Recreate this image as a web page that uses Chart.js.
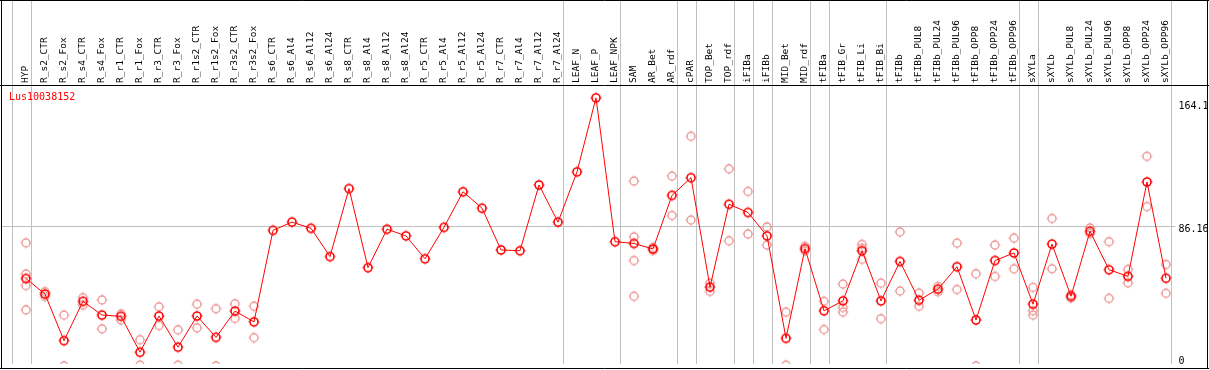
<!DOCTYPE html>
<html>
<head>
<meta charset="utf-8">
<script src="https://cdn.jsdelivr.net/npm/chart.js@4"></script>
<style>
  html, body { margin: 0; padding: 0; background: #fff; }
  #wrap { width: 1209px; height: 370px; position: relative; }
</style>
</head>
<body>
<div id="wrap"><canvas id="chart"></canvas></div>
<script>
// Expression profile data
const geneName = 'Lus10038152';

const categories = [
    'HYP', 'R_s2_CTR', 'R_s2_Fox', 'R_s4_CTR', 'R_s4_Fox', 'R_r1_CTR', 'R_r1_Fox', 'R_r3_CTR', 'R_r3_Fox', 'R_r1s2_CTR',
    'R_r1s2_Fox', 'R_r3s2_CTR', 'R_r3s2_Fox', 'R_s6_CTR', 'R_s6_Al4', 'R_s6_Al12', 'R_s6_Al24', 'R_s8_CTR', 'R_s8_Al4', 'R_s8_Al12',
    'R_s8_Al24', 'R_r5_CTR', 'R_r5_Al4', 'R_r5_Al12', 'R_r5_Al24', 'R_r7_CTR', 'R_r7_Al4', 'R_r7_Al12', 'R_r7_Al24', 'LEAF_N',
    'LEAF_P', 'LEAF_NPK', 'SAM', 'AR_Bet', 'AR_rdf', 'cPAR', 'TOP_Bet', 'TOP_rdf', 'iFIBa', 'iFIBb',
    'MID_Bet', 'MID_rdf', 'tFIBa', 'tFIB_Gr', 'tFIB_Li', 'tFIB_Bi', 'tFIBb', 'tFIBb_PUL8', 'tFIBb_PUL24', 'tFIBb_PUL96',
    'tFIBb_OPP8', 'tFIBb_OPP24', 'tFIBb_OPP96', 'sXYLa', 'sXYLb', 'sXYLb_PUL8', 'sXYLb_PUL24', 'sXYLb_PUL96', 'sXYLb_OPP8', 'sXYLb_OPP24',
    'sXYLb_OPP96'
];

// mean per sample (red line)
const meanValues = [
    52.8, 43.0, 13.5, 38.4, 29.7, 28.9, 6.2, 29.1, 9.4, 29.1,
    15.6, 32.2, 25.4, 83.3, 88.5, 84.6, 66.7, 109.7, 59.7, 84.0,
    79.8, 65.3, 85.2, 107.7, 97.3, 70.9, 70.4, 112.0, 88.5, 120.3,
    167.1, 76.1, 75.0, 71.5, 105.4, 116.6, 47.4, 99.8, 94.6, 79.8,
    15.0, 71.7, 32.4, 38.7, 70.4, 38.7, 63.6, 39.1, 46.1, 60.3,
    26.6, 64.2, 69.0, 36.6, 74.6, 41.6, 82.7, 58.4, 54.2, 113.9,
    53.0
];

// individual replicates (pale circles)
const repA = [
    75.4, 44.5, 29.7, 40.7, 39.3, 30.4, 14.1, 34.9, 20.4, 36.6,
    33.7, 36.8, 35.3, null, null, null, null, null, null, null,
    null, null, null, null, null, null, null, null, null, null,
    null, null, 114.5, 72.5, 117.6, 142.8, 49.9, 122.2, 107.9, 85.4,
    31.6, 73.1, 38.4, 49.3, 74.4, 49.9, 82.3, 43.6, 47.8, 75.2,
    55.9, 74.0, 78.4, 47.2, 90.8, 42.5, 84.8, 76.1, 58.6, 130.1,
    61.7
];
const repB = [
    55.7, 41.5, -2.5, 36.0, 21.0, 26.6, -2.0, 23.1, -2.0, 21.6,
    -2.5, 27.6, 15.4, null, null, null, null, null, null, null,
    null, null, null, null, null, null, null, null, null, null,
    null, null, 79.2, 70.5, 92.7, 89.8, 44.7, 76.7, 81.0, 74.0,
    -2.0, 70.3, 20.6, 34.5, 72.0, 27.4, 44.9, 35.3, 44.5, 45.9,
    -2.5, 54.1, 59.0, 32.4, 59.0, 40.5, 81.2, 40.3, 50.1, 98.3,
    43.5
];
const repC = [
    48.4, null, null, null, null, null, null, null, null, null,
    null, null, null, null, null, null, null, null, null, null,
    null, null, null, null, null, null, null, null, null, null,
    null, null, 64.2, null, null, null, null, null, null, null,
    null, null, null, 31.6, 65.0, null, null, null, null, null,
    null, null, null, 29.7, null, null, null, null, null, null,
    null
];
const repD = [
    33.0, null, null, null, null, null, null, null, null, null,
    null, null, null, null, null, null, null, null, null, null,
    null, null, null, null, null, null, null, null, null, null,
    null, null, 41.6, null, null, null, null, null, null, null,
    null, null, null, null, null, null, null, null, null, null,
    null, null, null, null, null, null, null, null, null, null,
    null
];

const yTickValues = [0, 86.16, 164.1];
const yTickLabels = ['0', '86.16', '164.1'];
const gridValue = 86.16;

// group separators drawn just right of these sample numbers (1-based, 0 = before first)
const separatorAfter = [0, 1, 29, 32, 35, 36, 38, 39, 40, 42, 43, 46, 53, 54, 61];

const MONO = '"DejaVu Sans Mono", monospace';

function makeMarker(color, width) {
    const c = document.createElement('canvas');
    c.width = 14;
    c.height = 14;
    const g = c.getContext('2d');
    g.strokeStyle = color;
    g.lineWidth = width;
    g.beginPath();
    g.arc(7, 7, 4, 0, Math.PI * 2);
    g.stroke();
    g.lineWidth = 1;
    g.beginPath();
    g.moveTo(7, 1.5); g.lineTo(7, 2.6);
    g.moveTo(7, 11.4); g.lineTo(7, 12.5);
    g.moveTo(1.5, 7); g.lineTo(2.6, 7);
    g.moveTo(11.4, 7); g.lineTo(12.5, 7);
    g.stroke();
    return c;
}

const replicatePoints = [];
[repA, repB, repC, repD].forEach(rep => {
    rep.forEach((v, i) => {
        if (v !== null) replicatePoints.push({ x: categories[i], y: v });
    });
});

const framePlugin = {
    id: 'frame',
    beforeDraw(chart) {
        const ctx = chart.ctx;
        const xs = chart.scales.x;
        const ys = chart.scales.y;
        const area = chart.chartArea;
        ctx.save();
        ctx.strokeStyle = '#c0c0c0';
        ctx.lineWidth = 1;
        // vertical group lines
        separatorAfter.forEach(n => {
            const px = Math.round(xs.getPixelForValue(n - 1) + 4.7) + 0.5;
            ctx.beginPath();
            ctx.moveTo(px, 0);
            ctx.lineTo(px, area.bottom);
            ctx.stroke();
        });
        // horizontal grid line
        const gy = Math.round(ys.getPixelForValue(gridValue)) + 0.5;
        ctx.beginPath();
        ctx.moveTo(1, gy);
        ctx.lineTo(area.right, gy);
        ctx.stroke();
        ctx.restore();
    },
    afterDraw(chart) {
        const ctx = chart.ctx;
        const ys = chart.scales.y;
        const area = chart.chartArea;
        const w = chart.width;
        ctx.save();
        ctx.strokeStyle = '#000';
        ctx.lineWidth = 1;
        ctx.beginPath();
        ctx.moveTo(1.5, 0); ctx.lineTo(1.5, 369);
        ctx.moveTo(0, 0.5); ctx.lineTo(w, 0.5);
        ctx.moveTo(w - 1.5, 0); ctx.lineTo(w - 1.5, 369);
        ctx.moveTo(0, 368.5); ctx.lineTo(w, 368.5);
        ctx.moveTo(0, 85.5); ctx.lineTo(w, 85.5);
        ctx.stroke();

        // gene name
        ctx.fillStyle = '#ff0000';
        ctx.font = '10px ' + MONO;
        ctx.textBaseline = 'middle';
        ctx.textAlign = 'left';
        ctx.fillText(geneName, 9, 97);

        // right-hand value labels
        ctx.fillStyle = '#000';
        ctx.textBaseline = 'top';
        yTickValues.forEach((v, i) => {
            const py = Math.min(ys.getPixelForValue(v) - 1.5, 356);
            ctx.fillText(yTickLabels[i], area.right + 3, py);
        });
        ctx.restore();
    }
};

const ctx = document.getElementById('chart').getContext('2d');
new Chart(ctx, {
    type: 'line',
    data: {
        labels: categories,
        datasets: [
            {
                label: geneName,
                data: meanValues,
                borderColor: '#ff0000',
                borderWidth: 1,
                pointStyle: makeMarker('#ff0000', 1.6),
                pointRadius: 5,
                tension: 0,
                order: 0
            },
            {
                label: 'replicates',
                data: replicatePoints,
                showLine: false,
                pointStyle: makeMarker('#ec9494', 1.3),
                pointRadius: 5,
                clip: { left: 10, right: 10, top: 10, bottom: 0 },
                order: 1
            }
        ]
    },
    options: {
        responsive: true,
        maintainAspectRatio: false,
        animation: false,
        layout: { padding: { left: 16.5, right: 33.5, top: 0, bottom: 2 } },
        plugins: {
            legend: { display: false },
            tooltip: { enabled: false }
        },
        scales: {
            x: {
                type: 'category',
                position: 'top',
                offset: true,
                grid: { display: false, drawTicks: false },
                border: { display: false },
                ticks: {
                    autoSkip: false,
                    minRotation: 90,
                    maxRotation: 90,
                    padding: 3,
                    labelOffset: 11,
                    color: '#000',
                    font: { family: MONO, size: 9.5 }
                },
                afterFit: scale => { scale.height = 86; }
            },
            y: {
                display: false,
                min: -1.25,
                max: 174.6
            }
        }
    },
    plugins: [framePlugin]
});
</script>
</body>
</html>
